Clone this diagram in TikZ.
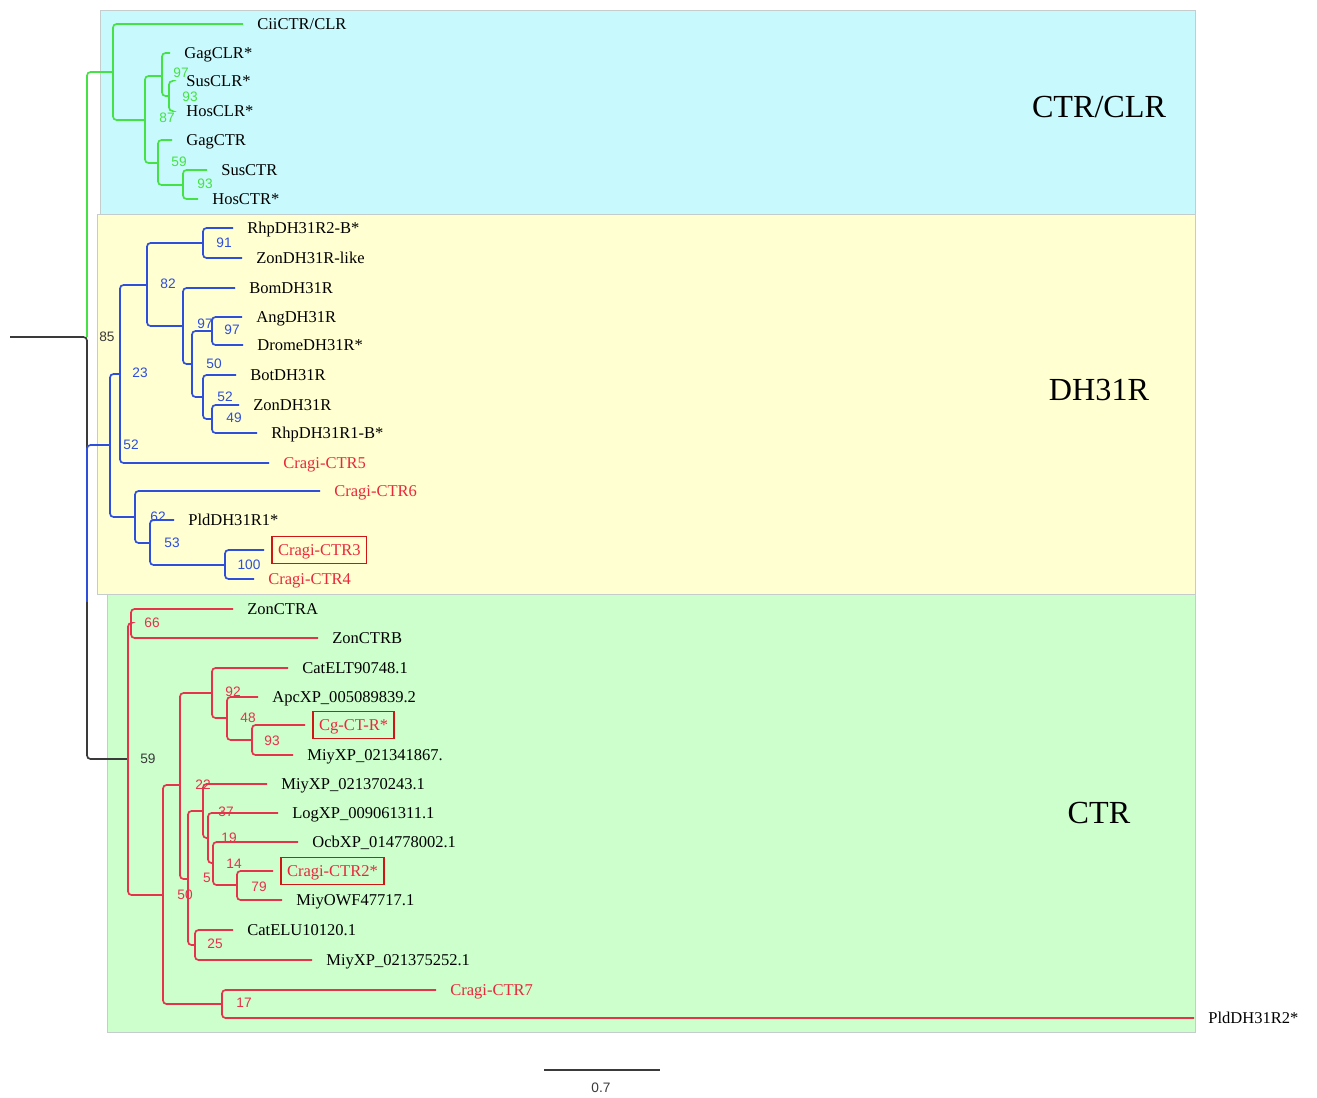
\documentclass[tikz,border=0pt]{standalone}
\usepackage{fontspec}
\setmainfont{Liberation Serif}
\newfontfamily\bsfont{Liberation Sans}
\definecolor{grnBr}{HTML}{44E244}
\definecolor{bluBr}{HTML}{2E4EDC}
\definecolor{redBr}{HTML}{E6324B}
\definecolor{redTx}{HTML}{E8283C}
\definecolor{boxRed}{HTML}{D01515}
\definecolor{rootK}{HTML}{3A3A3A}
\definecolor{bgCyan}{HTML}{C8F9FC}
\definecolor{bgYel}{HTML}{FFFFD2}
\definecolor{bgGrn}{HTML}{CCFFCC}
\definecolor{bgEdge}{HTML}{C4CCCC}
\tikzset{
  br/.style={line width=0.95pt,rounded corners=0.7mm},
  gbr/.style={br,grnBr},
  bbr/.style={br,bluBr},
  rbr/.style={br,redBr},
  kbr/.style={br,rootK},
  lf/.style={anchor=west,inner xsep=2.8mm,inner ysep=0pt,text height=2.8mm,text depth=0.6mm,
    font=\fontsize{9.4}{11}\selectfont},
  lfr/.style={lf,text=redTx},
  bxlf/.style={lf,draw=boxRed,line width=0.8pt,text=redTx,inner xsep=1.2mm,inner ysep=1mm,outer xsep=1.6mm},
  bs/.style={inner sep=0pt,font=\bsfont\fontsize{7.8}{9}\selectfont},
  gbs/.style={bs,text=grnBr},
  bbs/.style={bs,text=bluBr},
  rbs/.style={bs,text=redBr},
  kbs/.style={bs,text=rootK},
  clade/.style={anchor=base,inner sep=0pt,font=\fontsize{18.3}{20}\selectfont}
}

\begin{document}
\begin{tikzpicture}[x=0.2mm,y=-0.2mm]
\useasboundingbox (0,0) rectangle (1317,1097);
% clade backgrounds
\filldraw[fill=bgCyan,draw=bgEdge,line width=0.4pt] (100,10) rectangle (1195,214);
\filldraw[fill=bgYel,draw=bgEdge,line width=0.4pt] (97,214) rectangle (1195,594);
\filldraw[fill=bgGrn,draw=bgEdge,line width=0.4pt] (107,594) rectangle (1195,1032);
\node[clade] (tCLR) at (1099,118) {CTR/CLR};
\node[clade] (tDH) at (1099,400) {DH31R};
\node[clade] (tCTR) at (1099,823) {CTR};

% internal nodes
\coordinate (root0) at (10,337);
\coordinate (root) at (87,337);
\coordinate (m) at (87,602);
\coordinate (g1) at (113,72);
\coordinate (g2) at (145,120);
\coordinate (g3) at (162,76);
\coordinate (g4) at (169,96);
\coordinate (g5) at (158,163);
\coordinate (g6) at (183,185);
\coordinate (b1) at (110,445);
\coordinate (b2) at (120,374);
\coordinate (b3) at (147,285);
\coordinate (b4) at (203,243);
\coordinate (b5) at (183,326);
\coordinate (b6) at (135,517);
\coordinate (b7) at (192,364);
\coordinate (b8) at (212,331);
\coordinate (b9) at (203,397);
\coordinate (b10) at (212,419);
\coordinate (b11) at (150,543);
\coordinate (b12) at (225,565);
\coordinate (r1) at (128,759);
\coordinate (r2) at (131,623);
\coordinate (r3) at (163,895);
\coordinate (r4) at (180,785);
\coordinate (r5) at (212,693);
\coordinate (r6) at (227,718);
\coordinate (r7) at (252,740);
\coordinate (r8) at (188,879);
\coordinate (r9) at (203,811);
\coordinate (r10) at (208,838);
\coordinate (r11) at (213,863);
\coordinate (r12) at (237,885);
\coordinate (r13) at (195,945);
\coordinate (r14) at (222,1004);

% leaves: CTR/CLR
\node[lf] (cii) at (243,24) {CiiCTR/CLR};
\node[lf] (gagclr) at (170,53) {GagCLR*};
\node[lf] (susclr) at (172,81) {SusCLR*};
\node[lf] (hosclr) at (172,111) {HosCLR*};
\node[lf] (gagctr) at (172,140) {GagCTR};
\node[lf] (susctr) at (207,170) {SusCTR};
\node[lf] (hosctr) at (198,199) {HosCTR*};
% leaves: DH31R
\node[lf] (rhp2) at (233,228) {RhpDH31R2-B*};
\node[lf] (zonlike) at (242,258) {ZonDH31R-like};
\node[lf] (bom) at (235,288) {BomDH31R};
\node[lf] (ang) at (242,317) {AngDH31R};
\node[lf] (drome) at (243,345) {DromeDH31R*};
\node[lf] (bot) at (236,375) {BotDH31R};
\node[lf] (zondh) at (239,405) {ZonDH31R};
\node[lf] (rhp1) at (257,433) {RhpDH31R1-B*};
\node[lfr] (ctr5) at (269,463) {Cragi-CTR5};
\node[lfr] (ctr6) at (320,491) {Cragi-CTR6};
\node[lf] (pld1) at (174,520) {PldDH31R1*};
\node[bxlf] (ctr3) at (264,550) {Cragi-CTR3};
\node[lfr] (ctr4) at (254,579) {Cragi-CTR4};
% leaves: CTR
\node[lf] (zona) at (233,609) {ZonCTRA};
\node[lf] (zonb) at (318,638) {ZonCTRB};
\node[lf] (catelt) at (288,668) {CatELT90748.1};
\node[lf] (apc) at (258,697) {ApcXP\_005089839.2};
\node[bxlf] (cgctr) at (305,725) {Cg-CT-R*};
\node[lf] (miy1) at (293,755) {MiyXP\_021341867.};
\node[lf] (miy2) at (267,784) {MiyXP\_021370243.1};
\node[lf] (log) at (278,813) {LogXP\_009061311.1};
\node[lf] (ocb) at (298,842) {OcbXP\_014778002.1};
\node[bxlf] (ctr2) at (273,871) {Cragi-CTR2*};
\node[lf] (miyowf) at (282,900) {MiyOWF47717.1};
\node[lf] (catelu) at (233,930) {CatELU10120.1};
\node[lf] (miy3) at (312,960) {MiyXP\_021375252.1};
\node[lfr] (ctr7) at (436,990) {Cragi-CTR7};
\node[lf] (pld2) at (1194,1018) {PldDH31R2*};

% root
\draw[gbr] (root) |- (g1);
\draw[kbr] (root0) -- (root) -- (m);
\draw[bbr] (m) |- (b1);
\draw[kbr] (m) |- (r1);
% CTR/CLR branches
\draw[gbr] (g1) |- (cii);
\draw[gbr] (g1) |- (g2);
\draw[gbr] (g2) |- (g3);
\draw[gbr] (g2) |- (g5);
\draw[gbr] (g3) |- (gagclr);
\draw[gbr] (g3) |- (g4);
\draw[gbr] (g4) |- (susclr);
\draw[gbr] (g4) |- (hosclr);
\draw[gbr] (g5) |- (gagctr);
\draw[gbr] (g5) |- (g6);
\draw[gbr] (g6) |- (susctr);
\draw[gbr] (g6) |- (hosctr);
% DH31R branches
\draw[bbr] (b1) |- (b2);
\draw[bbr] (b1) |- (b6);
\draw[bbr] (b2) |- (b3);
\draw[bbr] (b2) |- (ctr5);
\draw[bbr] (b3) |- (b4);
\draw[bbr] (b3) |- (b5);
\draw[bbr] (b4) |- (rhp2);
\draw[bbr] (b4) |- (zonlike);
\draw[bbr] (b5) |- (bom);
\draw[bbr] (b5) |- (b7);
\draw[bbr] (b7) |- (b8);
\draw[bbr] (b7) |- (b9);
\draw[bbr] (b8) |- (ang);
\draw[bbr] (b8) |- (drome);
\draw[bbr] (b9) |- (bot);
\draw[bbr] (b9) |- (b10);
\draw[bbr] (b10) |- (zondh);
\draw[bbr] (b10) |- (rhp1);
\draw[bbr] (b6) |- (ctr6);
\draw[bbr] (b6) |- (b11);
\draw[bbr] (b11) |- (pld1);
\draw[bbr] (b11) |- (b12);
\draw[bbr] (b12) |- (ctr3);
\draw[bbr] (b12) |- (ctr4);
% CTR branches
\draw[rbr] (r1) |- (r2);
\draw[rbr] (r1) |- (r3);
\draw[rbr] (r2) |- (zona);
\draw[rbr] (r2) |- (zonb);
\draw[rbr] (r3) |- (r4);
\draw[rbr] (r3) |- (r14);
\draw[rbr] (r4) |- (r5);
\draw[rbr] (r4) |- (r8);
\draw[rbr] (r5) |- (catelt);
\draw[rbr] (r5) |- (r6);
\draw[rbr] (r6) |- (apc);
\draw[rbr] (r6) |- (r7);
\draw[rbr] (r7) |- (cgctr);
\draw[rbr] (r7) |- (miy1);
\draw[rbr] (r8) |- (r9);
\draw[rbr] (r8) |- (r13);
\draw[rbr] (r9) |- (miy2);
\draw[rbr] (r9) |- (r10);
\draw[rbr] (r10) |- (log);
\draw[rbr] (r10) |- (r11);
\draw[rbr] (r11) |- (ocb);
\draw[rbr] (r11) |- (r12);
\draw[rbr] (r12) |- (ctr2);
\draw[rbr] (r12) |- (miyowf);
\draw[rbr] (r13) |- (catelu);
\draw[rbr] (r13) |- (miy3);
\draw[rbr] (r14) |- (ctr7);
\draw[rbr] (r14) |- (pld2);

% bootstrap values
\node[kbs] (bsRoot) at (107,337) {85};
\node[kbs] (bsCtr) at (148,759) {59};
\node[gbs] (bsG3) at (181,73) {97};
\node[gbs] (bsG4) at (190,97) {93};
\node[gbs] (bsG2) at (167,118) {87};
\node[gbs] (bsG5) at (179,162) {59};
\node[gbs] (bsG6) at (205,184) {93};
\node[bbs] (bsB3) at (168,284) {82};
\node[bbs] (bsB4) at (224,243) {91};
\node[bbs] (bsB7) at (205,324) {97};
\node[bbs] (bsB8) at (232,330) {97};
\node[bbs] (bsB9) at (214,364) {50};
\node[bbs] (bsB10) at (225,397) {52};
\node[bbs] (bsB10b) at (234,418) {49};
\node[bbs] (bsB2) at (140,373) {23};
\node[bbs] (bsB1) at (131,445) {52};
\node[bbs] (bsB11) at (158,517) {62};
\node[bbs] (bsB11b) at (172,543) {53};
\node[bbs] (bsB12) at (249,565) {100};
\node[rbs] (bsR2) at (152,623) {66};
\node[rbs] (bsR5) at (233,692) {92};
\node[rbs] (bsR6) at (248,718) {48};
\node[rbs] (bsR7) at (272,741) {93};
\node[rbs] (bsR9) at (203,785) {22};
\node[rbs] (bsR10) at (226,812) {37};
\node[rbs] (bsR11) at (229,838) {19};
\node[rbs] (bsR12) at (234,864) {14};
\node[rbs] (bsR11b) at (207,878) {5};
\node[rbs] (bsR12b) at (259,887) {79};
\node[rbs] (bsR8) at (185,895) {50};
\node[rbs] (bsR13) at (215,944) {25};
\node[rbs] (bsR14) at (244,1003) {17};

% scale bar
\coordinate (sb1) at (544,1070);
\coordinate (sb2) at (660,1070);
\draw[rootK,line width=0.9pt] (sb1) -- (sb2);
\node[kbs] (sbl) at (601,1088) {0.7};
\end{tikzpicture}
\end{document}
